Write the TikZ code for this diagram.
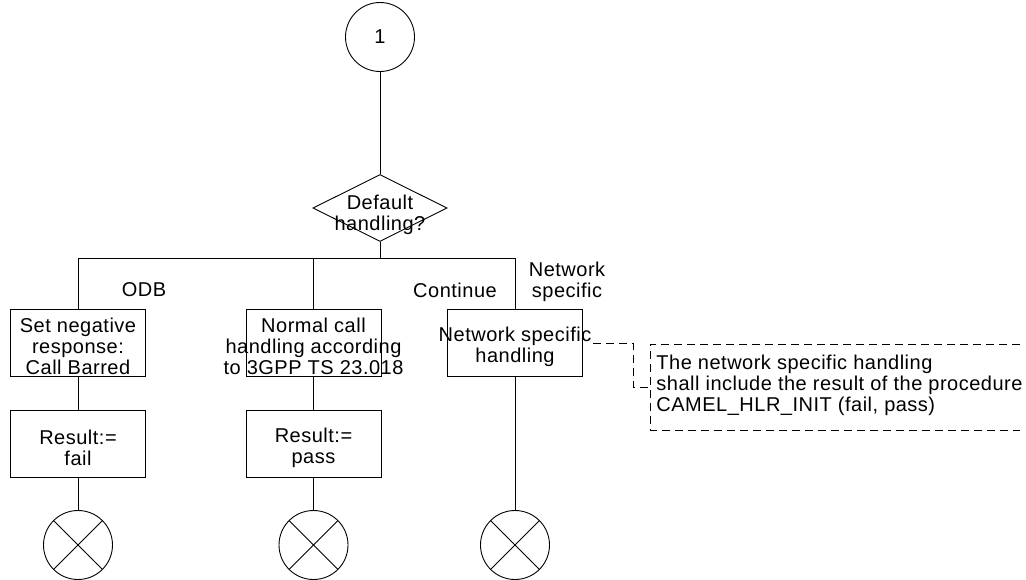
\documentclass[tikz,border=0pt]{standalone}
\usepackage{fontspec}
\setmainfont[LetterSpace=2.5]{Liberation Sans}
\usetikzlibrary{shapes.geometric}
\begin{document}
\begin{tikzpicture}[x=1pt,y=-1pt,line width=0.9pt,
	every node/.style={font=\fontsize{20}{21}\selectfont},
	procbox/.style={draw,rectangle,minimum width=135pt,minimum height=67pt,inner sep=0pt},
	txt/.style={align=center,inner sep=0pt,yshift=-4pt},
	endsym/.style={draw,circle,minimum size=69pt,inner sep=0pt,
		path picture={\draw (path picture bounding box.north west) -- (path picture bounding box.south east)
			(path picture bounding box.south west) -- (path picture bounding box.north east);}},
	cmt/.style={dash pattern=on 8pt off 5pt}]
	\useasboundingbox (0,0) rectangle (1026,580);
	% start and decision
	\node[draw,circle,minimum size=69pt,inner sep=0pt] (start) at (380,37) {1};
	\node[draw,diamond,minimum width=134pt,minimum height=67pt,inner sep=0pt] (dec) at (380,208) {};
	\node[txt,yshift=-3pt] (dectxt) at (dec) {Default\\handling?};
	\draw (start) -- (dec);
	% the three branches
	\node[procbox] (setneg) at (78,342.5) {};
	\node[procbox] (normal) at (313.5,342.5) {};
	\node[procbox] (netspec) at (515,342.5) {};
	\node[txt] (setnegtxt) at (setneg) {Set negative\\response:\\Call Barred};
	\node[txt] (normaltxt) at (normal) {Normal call\\handling according\\to 3GPP TS 23.018};
	\node[txt] (netspectxt) at (netspec) {Network specific\\handling};
	\coordinate (busL) at (78,258);
	\coordinate (busR) at (515,258);
	\draw (dec) -- (dec |- busL);
	\draw (setneg) |- (busR);
	\draw (normal) -- (normal |- busL);
	\draw (netspec) -- (netspec |- busR);
	\node (odblbl) at (144,290) {ODB};
	\node (contlbl) at (455,290) {Continue};
	\node[align=center] (nslbl) at (567,282) {Network\\specific};
	% results
	\node[procbox] (resfail) at (78,443.5) {};
	\node[procbox] (respass) at (313.5,443.5) {};
	\node[txt] (resfailtxt) at (resfail) {Result:=\\fail};
	\node[txt] (respasstxt) at (respass) {Result:=\\pass};
	\node[endsym] (endfail) at (78,545) {};
	\node[endsym] (endpass) at (313.5,545) {};
	\node[endsym] (endns) at (515,545) {};
	\draw (setneg) -- (resfail);
	\draw (resfail) -- (endfail);
	\draw (normal) -- (respass);
	\draw (respass) -- (endpass);
	\draw (netspec) -- (endns);
	% comment
	\node[align=left,anchor=west,inner sep=0pt] (cmttxt) at (656,385) {The network specific handling\\shall include the result of the procedure\\CAMEL\_HLR\_INIT (fail, pass)};
	\draw[cmt] (1020,344) -| (650,430) -- (1020,430);
	\coordinate (cmtfrom) at (593,343);
	\coordinate (cmtto) at (650,387);
	\draw[cmt] (cmtfrom) -- (633,343) -- (633,387) -- (cmtto);
\end{tikzpicture}
\end{document}
